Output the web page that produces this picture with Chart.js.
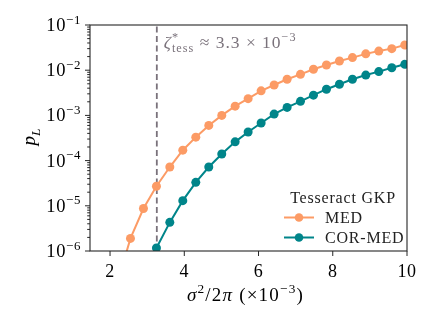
<!DOCTYPE html>
<html>
<head>
<meta charset="utf-8">
<script src="https://cdn.jsdelivr.net/npm/chart.js@4.4.1/dist/chart.umd.min.js"></script>
<style>
  html, body { margin: 0; padding: 0; background: #fff; }
  #wrap { width: 435px; height: 325px; }
</style>
</head>
<body>
<div id="wrap"><canvas id="plChart" width="435" height="325"></canvas></div>
<script>
// -----------------------------
// Data
// -----------------------------
const sigmaScaled = [2.20, 2.55, 2.90, 3.25, 3.61, 3.96, 4.31, 4.66, 5.01, 5.37, 5.72, 6.07,
  6.42, 6.77, 7.13, 7.48, 7.83, 8.18, 8.53, 8.89, 9.24, 9.59, 9.94];
const medValues = [2.0e-7, 1.9e-6, 8.7e-6, 2.7e-5, 7.2e-5, 1.7e-4, 3.3e-4, 6.0e-4, 1.0e-3, 1.6e-3,
  2.35e-3, 3.5e-3, 4.7e-3, 6.3e-3, 8.1e-3, 1.05e-2, 1.3e-2, 1.6e-2, 1.9e-2, 2.3e-2, 2.65e-2,
  3.0e-2, 3.6e-2];
const corMedValues = [null, null, 1.5e-7, 1.17e-6, 4.3e-6, 1.3e-5, 3.3e-5, 7.2e-5, 1.4e-4, 2.6e-4,
  4.3e-4, 6.8e-4, 1.07e-3, 1.5e-3, 2.05e-3, 2.8e-3, 3.8e-3, 4.9e-3, 6.3e-3, 7.8e-3, 9.3e-3,
  1.13e-2, 1.35e-2];
const thresholdX = 3.26;
const seriesLabels = ["MED", "COR-MED"];
const legendTitle = "Tesseract GKP";
const xTicks = [2, 4, 6, 8, 10];
const yTickExps = [-6, -5, -4, -3, -2, -1];

const FAMILY = '"Liberation Serif", "DejaVu Serif", serif';
const ORANGE = "#fc9b65";
const TEAL = "#00858a";
const GRAY = "#7a727b";

// -----------------------------
// Text helper: runs of [text, kind]
// kind: r, i, sup, supi, sub, subi ; trailing "@" = stack on previous run
// -----------------------------
function drawRuns(ctx, runs, x, y, size, align, color, spacing = 0) {
  ctx.save();
  ctx.letterSpacing = spacing + "px";
  const parts = runs.map(([t, k]) => {
    const back = k.endsWith("@");
    const kind = back ? k.slice(0, -1) : k;
    const small = kind.startsWith("sup") || kind.startsWith("sub");
    const fs = small ? size * 0.7 : size;
    const it = kind === "i" || kind.endsWith("i");
    const font = `${it ? "italic " : ""}${fs}px ${FAMILY}`;
    ctx.font = font;
    const w = ctx.measureText(t).width;
    const dy = kind.startsWith("sup") ? -size * 0.4 : kind.startsWith("sub") ? size * 0.24 : 0;
    return { t, font, w, dy, back };
  });
  // layout
  let cx = 0, prevStart = 0, maxEnd = 0;
  parts.forEach(p => {
    if (p.back) {
      p.x = prevStart;
      cx = Math.max(cx, p.x + p.w);
    } else {
      p.x = cx;
      prevStart = cx;
      cx += p.w;
    }
    maxEnd = Math.max(maxEnd, cx);
  });
  const total = maxEnd;
  const x0 = align === "center" ? x - total / 2 : align === "right" ? x - total : x;
  ctx.fillStyle = color || "#000";
  ctx.textAlign = "left";
  ctx.textBaseline = "alphabetic";
  parts.forEach(p => {
    ctx.font = p.font;
    ctx.fillText(p.t, x0 + p.x, y + p.dy);
  });
  ctx.restore();
  return total;
}

// -----------------------------
// Axes, labels, annotation and legend
// -----------------------------
const decorPlugin = {
  id: "decor",
  beforeDraw(chart) {
    const ctx = chart.ctx;
    ctx.save();
    ctx.fillStyle = "#fff";
    ctx.fillRect(0, 0, chart.width, chart.height);
    ctx.restore();
  },
  afterDraw(chart) {
    const ctx = chart.ctx;
    const { left, right, top, bottom } = chart.chartArea;
    const xs = chart.scales.x;
    const ys = chart.scales.y;

    ctx.save();
    ctx.strokeStyle = "#262626";
    ctx.lineWidth = 1.1;
    ctx.strokeRect(left, top, right - left, bottom - top);

    // y ticks
    ctx.lineWidth = 1;
    yTickExps.forEach(e => {
      const py = ys.getPixelForValue(Math.pow(10, e));
      ctx.beginPath();
      ctx.moveTo(left - 5, py);
      ctx.lineTo(left, py);
      ctx.stroke();
      drawRuns(ctx, [["10", "r"], ["\u2212" + String(-e), "sup"]], left - 9, py + 6, 18.5, "right", "#000", 0.6);
      if (e < -1) {
        for (let k = 2; k <= 9; k++) {
          const pm = ys.getPixelForValue(k * Math.pow(10, e));
          ctx.beginPath();
          ctx.moveTo(left - 2.8, pm);
          ctx.lineTo(left, pm);
          ctx.stroke();
        }
      }
    });

    // x ticks
    xTicks.forEach(t => {
      const px = xs.getPixelForValue(t);
      ctx.beginPath();
      ctx.moveTo(px, bottom);
      ctx.lineTo(px, bottom + 5);
      ctx.stroke();
      drawRuns(ctx, [[String(t), "r"]], px, bottom + 26, 18, "center", "#000", 0.6);
    });
    ctx.restore();

    // axis titles
    drawRuns(ctx, [["\u03c3", "i"], ["2", "sup"], ["/2", "r"], ["\u03c0", "i"], [" (\u00d710", "r"], ["\u22123", "sup"], [")", "r"]],
      (left + right) / 2 - 3, bottom + 50, 19, "center", "#000", 1.2);
    ctx.save();
    ctx.translate(35, (top + bottom) / 2 - 1);
    ctx.rotate(-Math.PI / 2);
    drawRuns(ctx, [["p", "i"], ["L", "subi"]], 0, 0, 19, "center", "#000");
    ctx.restore();

    // threshold annotation
    drawRuns(ctx, [["\u03b6", "i"], ["*", "sup"], ["tess", "sub@"], [" \u2248 3.3 \u00d7 10", "r"], ["\u22123", "sup"]],
      xs.getPixelForValue(thresholdX) + 7, top + 23, 17.5, "left", GRAY, 1);

    // legend
    const lx = 284, lw = 30, tx = 325;
    drawRuns(ctx, [[legendTitle, "r"]], 343, 203, 16, "center", "#222", 0.8);
    [[ORANGE, 222.5], [TEAL, 242.5]].forEach(([col, ly], i) => {
      ctx.save();
      ctx.strokeStyle = col;
      ctx.lineWidth = 2;
      ctx.beginPath();
      ctx.moveTo(lx, ly - 5);
      ctx.lineTo(lx + lw, ly - 5);
      ctx.stroke();
      ctx.fillStyle = col;
      ctx.beginPath();
      ctx.arc(lx + lw / 2, ly - 5, 4.3, 0, Math.PI * 2);
      ctx.fill();
      ctx.restore();
      drawRuns(ctx, [[seriesLabels[i], "r"]], tx, ly, 16, "left", "#222", 0.8);
    });
  }
};

// -----------------------------
// Chart
// -----------------------------
const toPoints = ys => sigmaScaled.map((x, i) => ({ x, y: ys[i] }));

new Chart(document.getElementById("plChart"), {
  type: "line",
  data: {
    datasets: [
      {
        label: "threshold",
        data: [{ x: thresholdX, y: 1e-6 }, { x: thresholdX, y: 1e-1 }],
        borderColor: GRAY,
        borderWidth: 1.8,
        borderDash: [6, 3.5],
        pointRadius: 0,
        order: 3
      },
      {
        label: seriesLabels[0],
        data: toPoints(medValues),
        borderColor: ORANGE,
        backgroundColor: ORANGE,
        borderWidth: 2,
        pointRadius: 4.5,
        pointBorderWidth: 0,
        order: 2
      },
      {
        label: seriesLabels[1],
        data: toPoints(corMedValues),
        borderColor: TEAL,
        backgroundColor: TEAL,
        borderWidth: 2,
        pointRadius: 4.5,
        pointBorderWidth: 0,
        order: 1
      }
    ]
  },
  options: {
    responsive: false,
    animation: false,
    devicePixelRatio: 1,
    layout: { padding: { left: 0, top: 25, right: 28, bottom: 0 } },
    plugins: {
      legend: { display: false },
      tooltip: { enabled: false }
    },
    elements: { line: { tension: 0 } },
    scales: {
      x: {
        type: "linear",
        min: 1.46,
        max: 10,
        grid: { display: false },
        border: { display: false },
        ticks: { display: false },
        afterFit: s => { s.height = 74; }
      },
      y: {
        type: "logarithmic",
        min: 1e-6,
        max: 1e-1,
        grid: { display: false },
        border: { display: false },
        ticks: { display: false },
        afterFit: s => { s.width = 90; }
      }
    }
  },
  plugins: [decorPlugin]
});
</script>
</body>
</html>
